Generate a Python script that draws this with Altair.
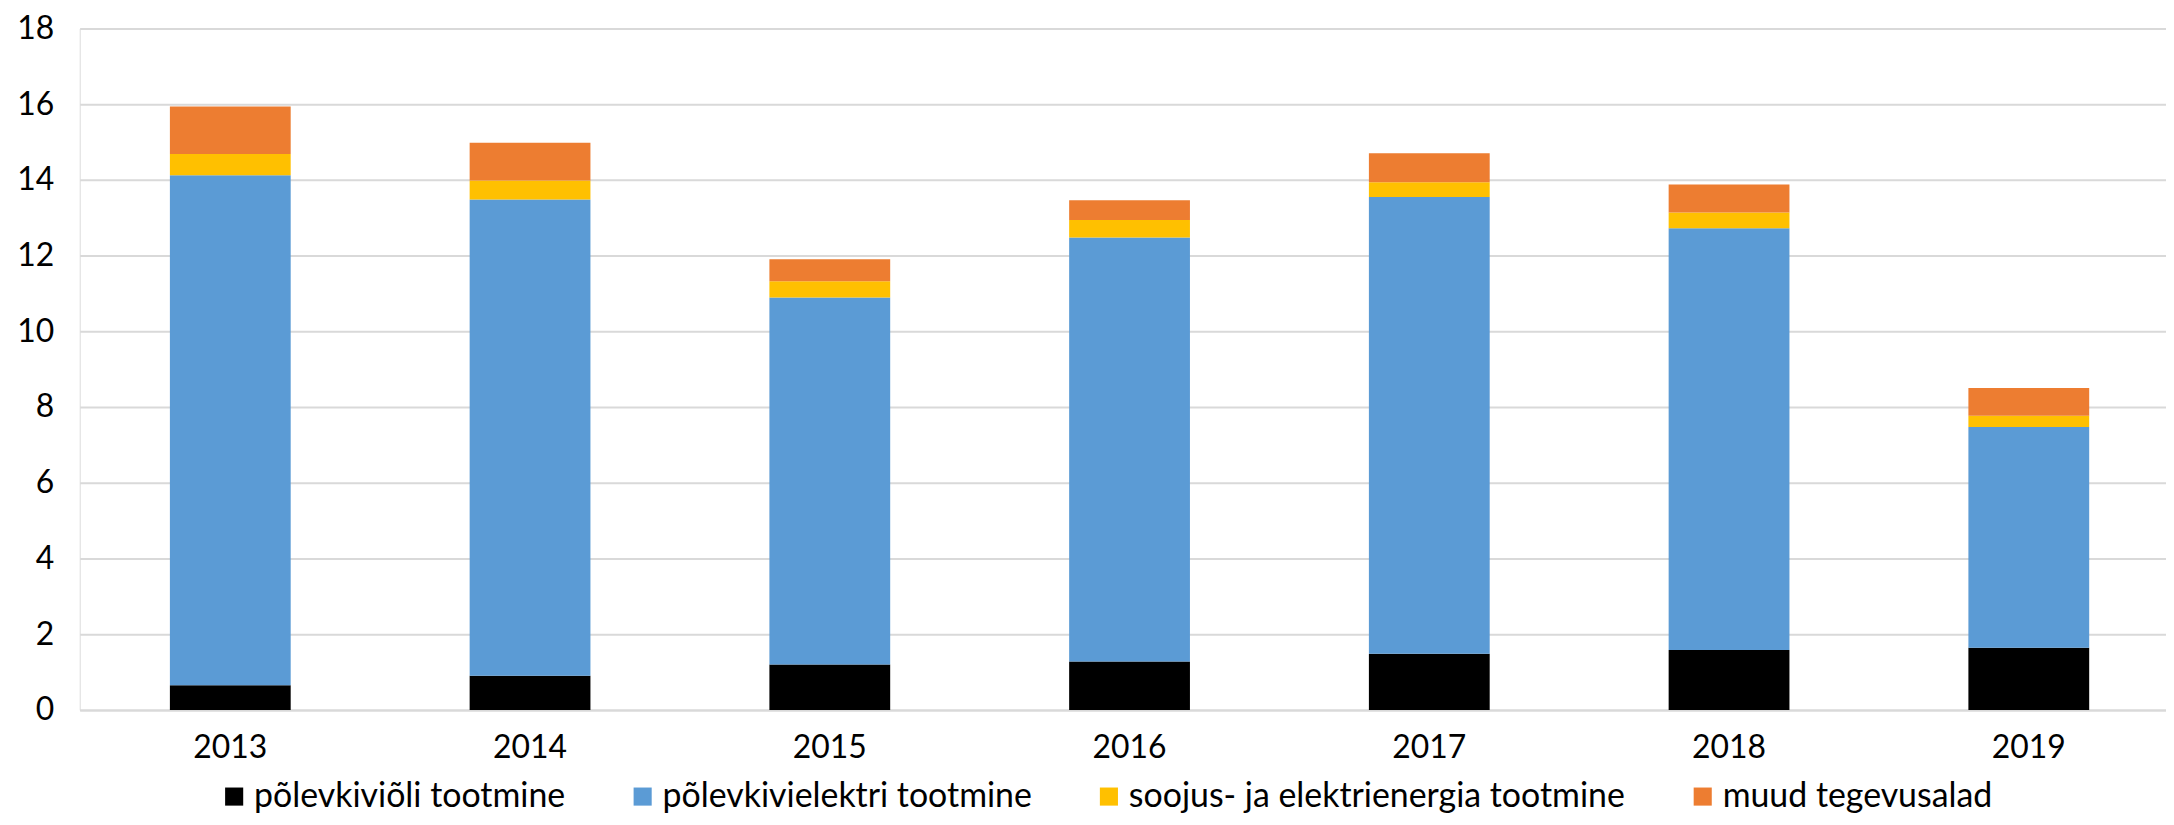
import altair as alt
import pandas as pd

years = ["2013", "2014", "2015", "2016", "2017", "2018", "2019"]
series = [
    "põlevkiviõli tootmine",
    "põlevkivielektri tootmine",
    "soojus- ja elektrienergia tootmine",
    "muud tegevusalad",
]
colors = ["#000000", "#5B9BD5", "#FFC000", "#ED7D31"]

oil = [0.65, 0.90, 1.20, 1.28, 1.48, 1.58, 1.64]
oil_power = [13.47, 12.58, 9.69, 11.20, 12.07, 11.14, 5.83]
heat_power = [0.56, 0.50, 0.43, 0.46, 0.39, 0.42, 0.30]
other = [1.26, 1.00, 0.58, 0.52, 0.76, 0.74, 0.73]

values = [oil, oil_power, heat_power, other]
rows = []
for si, (name, vals) in enumerate(zip(series, values)):
    for y, v in zip(years, vals):
        rows.append({"aasta": y, "tegevus": name, "väärtus": v, "jrk": si})
df = pd.DataFrame(rows)

FONT = "Lato"

chart = (
    alt.Chart(df)
    .mark_bar(stroke=None)
    .encode(
        x=alt.X(
            "aasta:N",
            title=None,
            sort=years,
            scale=alt.Scale(paddingInner=0.597, paddingOuter=0.2785, align=0.54),
            axis=alt.Axis(
                labelAngle=0,
                ticks=False,
                tickSize=0,
                labelPadding=23,
                labelFontSize=32,
                labelFont=FONT,
                labelColor="#000000",
                domain=True,
                domainColor="#D9D9D9",
                domainWidth=2,
                grid=False,
            ),
        ),
        y=alt.Y(
            "väärtus:Q",
            title=None,
            stack="zero",
            scale=alt.Scale(domain=[0, 18], nice=False),
            axis=alt.Axis(
                values=list(range(0, 19, 2)),
                ticks=False,
                tickSize=0,
                domain=False,
                labelPadding=26,
                labelFontSize=32,
                labelFont=FONT,
                labelColor="#000000",
                grid=True,
                gridColor="#D9D9D9",
                gridWidth=2,
            ),
        ),
        color=alt.Color(
            "tegevus:N",
            sort=series,
            scale=alt.Scale(domain=series, range=colors),
            legend=alt.Legend(
                title=None,
                orient="none",
                direction="horizontal",
                legendX=138,
                legendY=754,
                symbolType="square",
                symbolSize=330,
                symbolStrokeWidth=0,
                labelFontSize=34,
                labelFont=FONT,
                labelColor="#000000",
                labelOffset=3,
                columnPadding=60,
                labelLimit=0,
            ),
        ),
        order=alt.Order("jrk:Q", sort="ascending"),
    )
    .properties(
        width=2094,
        height=684,
        autosize=alt.AutoSizeParams(type="none"),
        padding={"left": 72, "top": 19, "right": 0, "bottom": 106},
    )
    .configure_view(stroke=None)
    .configure(background="#FFFFFF")
)

chart.save("out.html", embed_options={"renderer": "svg", "actions": False})
